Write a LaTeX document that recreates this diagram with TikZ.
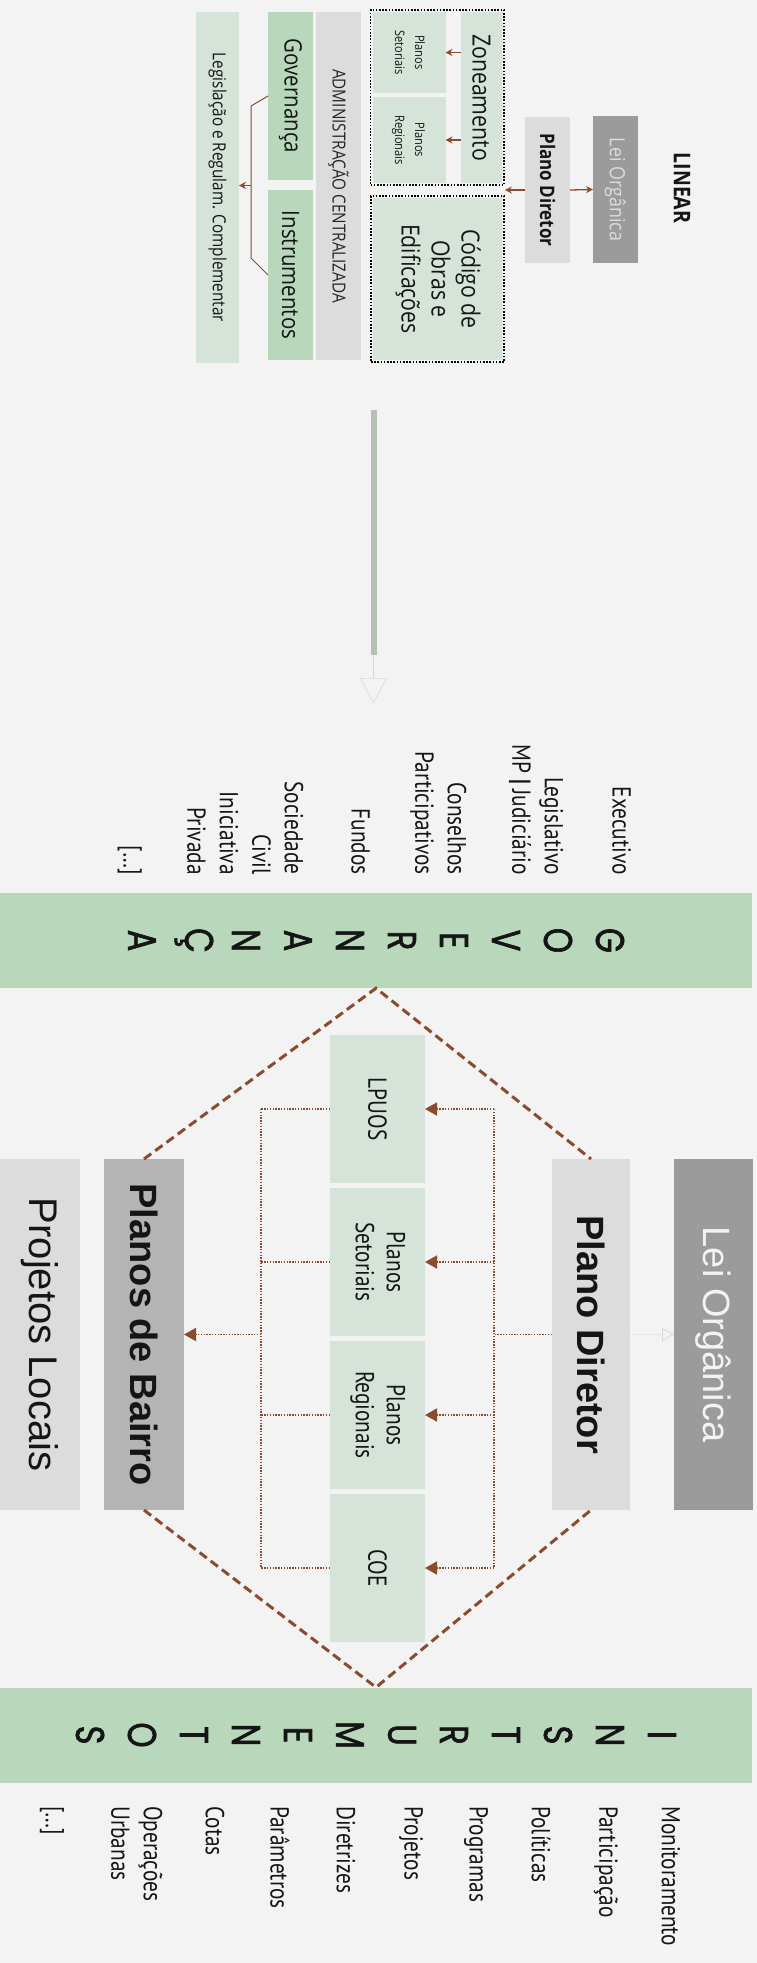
\documentclass[tikz,border=0pt]{standalone}
\usepackage{fontspec}
\usepackage{xcolor}
\usetikzlibrary{arrows.meta, positioning, fit, calc}
\setmainfont{Liberation Sans}
\newfontfamily\topfont[FakeStretch=0.85]{Open Sans}
\newfontfamily\listfont[FakeStretch=0.82]{PT Sans}
\newfontfamily\bandfont[FakeStretch=0.8, FakeBold=1.6]{Poppins}
\definecolor{bggray}{HTML}{F3F3F3}
\definecolor{lgray}{HTML}{DCDCDC}
\definecolor{mgray}{HTML}{B4B4B4}
\definecolor{dgray}{HTML}{9B9B9B}
\definecolor{bgreen}{HTML}{B9D7BB}
\definecolor{lgreen}{HTML}{D6E3D8}
\definecolor{flowgreen}{HTML}{B3C2B5}
\definecolor{brn}{HTML}{8B4B2D}
\definecolor{faint}{HTML}{D9D9D9}
\definecolor{txtdark}{HTML}{151515}
\newcommand{\vt}[1]{\rotatebox{-90}{#1}}
\newcommand{\vtc}[1]{\rotatebox{-90}{\begin{tabular}{@{}c@{}}#1\end{tabular}}}
\newcommand{\vtr}[1]{\rotatebox{-90}{\begin{tabular}{@{}r@{}}#1\end{tabular}}}
\newcommand{\vtl}[1]{\rotatebox{-90}{\begin{tabular}{@{}l@{}}#1\end{tabular}}}
\begin{document}
\begin{tikzpicture}[x=1pt, y=-1pt]
  \tikzstyle{box} = [inner sep=0, outer sep=0, text=txtdark]
  \tikzstyle{grp} = [draw=black, line width=1.6pt, dash pattern=on 1.6pt off 1.6pt, inner sep=2pt]
  \tikzstyle{brarrow} = [draw=brn, line width=1.3pt, -{Stealth[length=7pt, width=7pt]}]
  \tikzstyle{brline} = [draw=brn, line width=1pt]
  \tikzstyle{dotline} = [draw=brn, line width=1.7pt, dash pattern=on 1.4pt off 1.4pt]
  \tikzstyle{dotarrow} = [dotline, -{Triangle[length=12pt, width=13pt]}]
  \tikzstyle{dashline} = [draw=brn, line width=3pt, dash pattern=on 9pt off 5pt]
  \tikzstyle{band} = [fill=bgreen, minimum width=752, minimum height=95, inner sep=0]
  \tikzstyle{bandletter} = [inner sep=0, font=\bandfont\fontsize{40}{48}\selectfont, text=txtdark]
  \tikzstyle{listtxt} = [inner sep=0, font=\listfont\fontsize{26}{32.5}\selectfont, text=txtdark]

  \fill[bggray] (0,0) rectangle (757,1963);
  \useasboundingbox (0,0) rectangle (757,1963);

  \node[font=\topfont\bfseries\fontsize{23}{27}\selectfont, text=txtdark] (linear) at (682,188) {\vt{LINEAR}};
  \node[box, fill=dgray, text=lgray, minimum width=45, minimum height=147, font=\topfont\fontsize{21}{25}\selectfont] (leitop) at (615.5,189.5) {\vt{Lei Orgânica}};
  \node[box, fill=lgray, minimum width=45, minimum height=146, font=\topfont\bfseries\fontsize{20}{24}\selectfont] (pdtop) at (547.5,190) {\vt{Plano Diretor}};

  \node[box, fill=lgreen, minimum width=41, minimum height=171, font=\topfont\fontsize{25}{30}\selectfont] (zone) at (481.5,97.5) {\vt{Zoneamento}};
  \node[box, fill=lgreen, minimum width=73, minimum height=81, font=\topfont\fontsize{13}{20}\selectfont] (ps) at (409,52.5) {\vtc{Planos\\Setoriais}};
  \node[box, fill=lgreen, minimum width=73, minimum height=86, font=\topfont\fontsize{13}{20}\selectfont] (pr) at (409,140) {\vtc{Planos\\Regionais}};
  \node[grp, fit=(zone)(ps)(pr)] (zonegrp) {};
  \node[box, fill=lgreen, minimum width=129, minimum height=162, font=\topfont\fontsize{25}{30}\selectfont] (code) at (437.5,279) {\vtc{Código de\\Obras e\\Edificações}};
  \node[grp, fit=(code)] (codegrp) {};

  \node[box, fill=lgray, text=black!85, minimum width=45, minimum height=348, font=\topfont\fontsize{18}{22}\selectfont] (admin) at (338.5,186) {\vt{ADMINISTRAÇÃO CENTRALIZADA}};
  \node[box, fill=bgreen, minimum width=45, minimum height=168, font=\topfont\fontsize{24}{28}\selectfont] (gov) at (290.5,96) {\vt{Governança}};
  \node[box, fill=bgreen, minimum width=45, minimum height=170, font=\topfont\fontsize{24}{28}\selectfont] (instr) at (290.5,275) {\vt{Instrumentos}};
  \node[box, fill=lgreen, minimum width=43, minimum height=351, font=\topfont\fontsize{18}{21}\selectfont] (legis) at (217.5,187.5) {\vt{Legislação e Regulam. Complementar}};

  \draw[brarrow] (pdtop.east) -- (leitop.west);
  \draw[brarrow] (pdtop.west) -- (pdtop.west -| zonegrp.east);
  \draw[brarrow] (zone.west |- ps.east) -- (ps.east);
  \draw[brarrow] (zone.west |- pr.east) -- (pr.east);
  \draw[brline] (gov.west) -- ++(-17,10) -- ($(instr.west)+(-17,-17)$) -- (instr.west);
  \coordinate (brk) at ($(gov.west)!0.5!(instr.west)+(-17,0)$);
  \draw[brarrow] (brk) -- (brk -| legis.east);

  \coordinate (flowtop) at (373.5,410);
  \coordinate (flowmid) at (373.5,655);
  \coordinate (flowend) at (373.5,703);
  \draw[line width=6pt, draw=flowgreen] (flowtop) -- (flowmid);
  \draw[line width=0.6pt, draw=faint, -{Triangle[open, length=25pt, width=27pt]}] (flowmid) -- (flowend);

  \node[listtxt, anchor=south] (gexec) at (619,875) {\vtr{Executivo}};
  \node[listtxt, anchor=south] (gleg) at (535,875) {\vtr{Legislativo\\MP {\bfseries|} Judiciário}};
  \node[listtxt, anchor=south] (gcons) at (438,875) {\vtr{Conselhos\\Participativos}};
  \node[listtxt, anchor=south] (gfund) at (358,875) {\vtr{Fundos}};
  \node[listtxt, anchor=south] (gsoc) at (275,875) {\vtr{Sociedade\\Civil}};
  \node[listtxt, anchor=south] (gini) at (210,875) {\vtr{Iniciativa\\Privada}};
  \node[listtxt, anchor=south] (getc) at (130,875) {\vtr{[…]}};

  \node[band] (govband) at (376,940.5) {};
  \foreach \l [count=\i] in {G,O,V,E,R,N,A,N,Ç,A}
    \node[bandletter] (gl\i) at ($(govband.center)+({(5.5-\i)*52},0)$) {\vt{\l}};

  \node[box, fill=lgray, minimum width=80, minimum height=351, font=\fontsize{40}{48}\selectfont] (projloc) at (40,1334.5) {\vt{Projetos Locais}};
  \node[box, fill=mgray, minimum width=80, minimum height=351, font=\bfseries\fontsize{38}{46}\selectfont] (pb) at (144,1334.5) {\vt{Planos de Bairro}};
  \node[box, fill=lgray, minimum width=78, minimum height=351, font=\bfseries\fontsize{38}{46}\selectfont] (pdmid) at (591,1334.5) {\vt{Plano Diretor}};
  \node[box, fill=dgray, text=bggray, minimum width=79, minimum height=351, font=\fontsize{38}{46}\selectfont] (leimid) at (713.5,1334.5) {\vt{Lei Orgânica}};

  \node[box, fill=lgreen, minimum width=95, minimum height=148, font=\listfont\fontsize{26}{31}\selectfont] (lpuos) at (377.5,1109) {\vt{LPUOS}};
  \node[box, fill=lgreen, minimum width=95, minimum height=148, font=\listfont\fontsize{26}{31}\selectfont, below=5pt of lpuos] (ps2) {\vtc{Planos\\Setoriais}};
  \node[box, fill=lgreen, minimum width=95, minimum height=148, font=\listfont\fontsize{26}{31}\selectfont, below=5pt of ps2] (pr2) {\vtc{Planos\\Regionais}};
  \node[box, fill=lgreen, minimum width=95, minimum height=148, font=\listfont\fontsize{26}{31}\selectfont, below=5pt of pr2] (coe2) {\vt{COE}};

  \coordinate (railR) at (494,1109);
  \coordinate (railL) at (261,1109);
  \draw[dotline] (lpuos.east -| railR) -- (coe2.east -| railR);
  \draw[dotline] (lpuos.west -| railL) -- (coe2.west -| railL);
  \foreach \n in {lpuos,ps2,pr2,coe2} {
    \draw[dotarrow] (\n.east -| railR) -- (\n.east);
    \draw[dotline] (\n.west) -- (\n.west -| railL);
  }
  \draw[dotline] (pdmid.west) -- (pdmid.west -| railR);
  \draw[dotarrow] (pb.east -| railL) -- (pb.east);
  \draw[draw=faint, line width=0.8pt, dash pattern=on 1pt off 1pt, -{Triangle[open, length=12pt, width=13pt]}] (pdmid.east) -- (leimid.west);

  \node[band] (instband) at (376,1735) {};
  \foreach \l [count=\i] in {I,N,S,T,R,U,M,E,N,T,O,S}
    \node[bandletter] (il\i) at ($(instband.center)+({(6.5-\i)*52},0)$) {\vt{\l}};

  \draw[dashline] (pb.north) -- (govband.south) -- (pdmid.north);
  \draw[dashline] (pb.south) -- (instband.north) -- (pdmid.south);

  \foreach \t/\x [count=\i] in {Monitoramento/671, Participação/606, Políticas/541, Programas/476, Projetos/411, Diretrizes/346, Parâmetros/280, Cotas/215}
    \node[listtxt, anchor=north] (it\i) at (\x,1806) {\vt{\t}};
  \node[listtxt, anchor=north] (iop) at (134,1806) {\vtl{Operações\\Urbanas}};
  \node[listtxt, anchor=north] (ietc) at (52,1806) {\vt{[…]}};
\end{tikzpicture}
\end{document}
